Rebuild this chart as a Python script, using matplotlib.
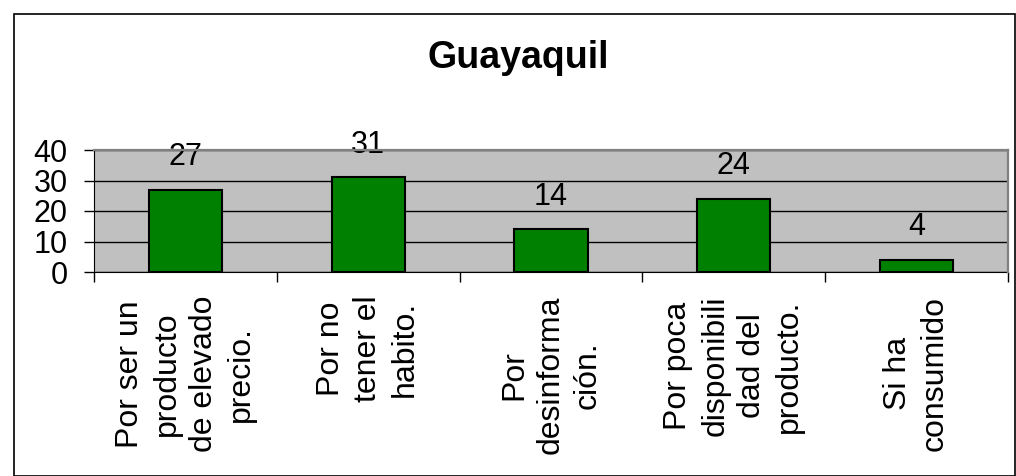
import matplotlib.pyplot as plt
from matplotlib.patches import Rectangle
from matplotlib.ticker import FixedLocator, MultipleLocator

plt.rcParams['font.family'] = ['Liberation Sans', 'DejaVu Sans']

categorias = ['Por ser un\nproducto\nde elevado\nprecio.',
              'Por no\ntener el\nhabito.',
              'Por\ndesinforma\nción.',
              'Por poca\ndisponibili\ndad del\nproducto.',
              'Si ha\nconsumido']
valores = [27, 31, 14, 24, 4]

fig = plt.figure(figsize=(10.16, 4.76), dpi=100)
ax = fig.add_axes([94 / 1016, 1 - 272 / 476, 914 / 1016, 122 / 476])

# marco exterior del grafico
fig.patches.append(Rectangle((14 / 1016, 0.5 / 476), 1001 / 1016, 461.5 / 476,
                             transform=fig.transFigure, fill=False,
                             edgecolor='black', linewidth=1.2))

ax.set_facecolor('#C0C0C0')
x = range(len(valores))
ax.bar(x, valores, width=0.4, color='#008000', edgecolor='black',
       linewidth=1.5, zorder=3)

for xi, v in zip(x, valores):
    ax.annotate(str(v), (xi, v), xytext=(0, 23.5), textcoords='offset points',
                ha='center', va='center', fontsize=22, zorder=4)

ax.set_ylim(0, 40)
ax.set_xlim(-0.5, len(valores) - 0.5)
ax.yaxis.set_major_locator(MultipleLocator(10))
ax.grid(axis='y', color='black', linewidth=1, zorder=1)
ax.tick_params(axis='y', labelsize=22, length=7, pad=12, width=1)

ax.set_xticks(list(x))
ax.set_xticklabels(categorias, rotation=90, fontsize=23, va='top',
                   ha='center', multialignment='center', linespacing=1.3)
ax.tick_params(axis='x', which='major', length=0, pad=17)
ax.xaxis.set_minor_locator(FixedLocator([i - 0.5 for i in range(len(valores) + 1)]))
ax.tick_params(axis='x', which='minor', length=7, width=1)

for s in ['left', 'bottom']:
    ax.spines[s].set_color('black')
for s in ['top', 'right']:
    ax.spines[s].set_color('#808080')
    ax.spines[s].set_linewidth(1.6)
    ax.spines[s].set_zorder(5)

fig.text(518 / 1016, 1 - 68 / 476, 'Guayaquil', ha='center', va='baseline',
         fontsize=27, fontweight='bold')

fig.savefig('out.png', dpi=100)
